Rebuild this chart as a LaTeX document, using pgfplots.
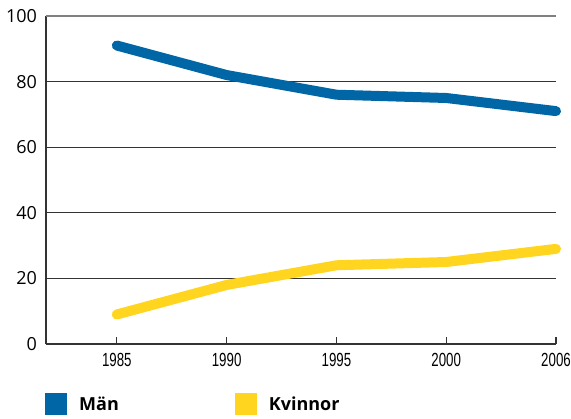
\documentclass[border=0pt]{standalone}
\usepackage{pgfplots}
\pgfplotsset{compat=1.18}
\usepackage{fontspec}
\setmainfont{Open Sans}
\newfontfamily\narrowfont[FakeStretch=0.7]{Liberation Sans}
\definecolor{manblue}{HTML}{0066A6}
\definecolor{kvyellow}{HTML}{FFD520}
\definecolor{axisgray}{HTML}{333333}
\begin{document}
\begin{tikzpicture}
  \begin{axis}[
    scale only axis,
    width=510pt, height=328pt,
    xmin=-0.645, xmax=4,
    ymin=0, ymax=100,
    axis x line=bottom, axis y line=left,
    axis line style={axisgray, line width=1.3pt, -},
    xtick={0,1,2,3,4},
    xticklabels={1985,1990,1995,2000,2006},
    ytick={0,20,40,60,80,100},
    ymajorgrids,
    grid style={axisgray, line width=0.8pt},
    x tick style={axisgray, line width=1.3pt},
    y tick style={draw=none},
    major tick length=7pt,
    xtick pos=bottom,
    xtick align=inside,
    xticklabel style={font=\narrowfont\fontsize{19}{19}\selectfont, yshift=-6pt},
    yticklabel style={font=\fontsize{18}{18}\selectfont, xshift=-2pt},
    /pgf/number format/assume math mode=true,
    /pgf/number format/1000 sep={},
    clip=false,
    legend columns=2,
    legend style={at={(rel axis cs:0,0)}, anchor=north west, yshift=-49pt, xshift=-1pt,
      draw=none, fill=none, inner sep=0pt,
      font=\bfseries\fontsize{18}{18}\selectfont,
      /tikz/every odd column/.append style={column sep=10pt},
      /tikz/every even column/.append style={column sep=114pt}},
    legend cell align=left,
    legend image code/.code={\fill[#1, draw=none] (0pt,-11pt) rectangle (22pt,11pt);},
  ]
    \addplot[manblue, line width=10pt, line cap=round, line join=round] coordinates {
      (0,91) (1,82) (2,76) (3,75) (4,71)
    };
    \addlegendentry{Män}
    \addplot[kvyellow, line width=10pt, line cap=round, line join=round] coordinates {
      (0,9) (1,18) (2,24) (3,25) (4,29)
    };
    \addlegendentry{Kvinnor}
    \draw[gray, line width=1.2pt] (axis cs:-0.645,100) -- (axis cs:4,100);
    \coordinate (SW) at (rel axis cs:0,0);
    \coordinate (NE) at (rel axis cs:1,1);
  \end{axis}
  \pgfresetboundingbox
  \path ([shift={(-46pt,-75pt)}]SW) rectangle ([shift={(15pt,16pt)}]NE);
\end{tikzpicture}
\end{document}
